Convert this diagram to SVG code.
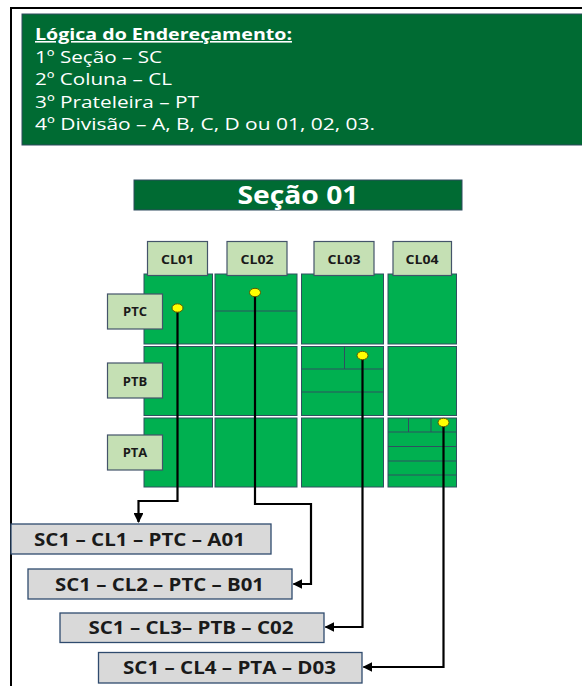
<svg xmlns="http://www.w3.org/2000/svg" width="582" height="686" viewBox="0 0 582 686">
<style>
.frame{fill:none;stroke:#000;stroke-width:2}
.hdr{fill:#006B33;stroke:#2F4B5F;stroke-width:1}
.ht{font-family:'Open Sans','Liberation Sans',Arial,sans-serif;font-size:16px;fill:#fff}
.cell{fill:#00B050;stroke:#2F5060;stroke-width:1}
.div{stroke:#2F5060;stroke-width:1;fill:none}
.tab{fill:#C5E0B4;stroke:#44546A;stroke-width:1.2}
.tt{font-family:'Open Sans','Liberation Sans',Arial,sans-serif;font-weight:bold;font-size:13px;fill:#1a1a1a;text-anchor:middle}
.lbl{fill:#D9D9D9;stroke:#2F4B6E;stroke-width:1.3}
.lt{font-family:'Open Sans','Liberation Sans',Arial,sans-serif;font-weight:bold;font-size:17px;fill:#1a1a1a}
.con{fill:none;stroke:#000;stroke-width:2.2}
.dot{fill:#FFFF00;stroke:#5A5A00;stroke-width:1}
</style>
<defs>
<marker id="ah" viewBox="0 0 10 10" refX="9" refY="5" markerWidth="4.5" markerHeight="4.5" orient="auto" markerUnits="strokeWidth">
<path d="M0,0 L10,5 L0,10 z" fill="#000"/>
</marker>
</defs>
<rect width="582" height="686" fill="#fff"/>
<rect class="frame" x="11" y="8" width="620" height="720"/>
<g id="legend">
<rect class="hdr" x="22" y="14" width="580" height="131"/>
<text class="ht" x="35" y="40" font-weight="bold" text-decoration="underline" textLength="257" lengthAdjust="spacingAndGlyphs">Lógica do Endereçamento:</text>
<text class="ht" x="35" y="63" textLength="127" lengthAdjust="spacingAndGlyphs">1º Seção – SC</text>
<text class="ht" x="35" y="85" textLength="137" lengthAdjust="spacingAndGlyphs">2º Coluna – CL</text>
<text class="ht" x="35" y="108" textLength="164" lengthAdjust="spacingAndGlyphs">3º Prateleira – PT</text>
<text class="ht" x="35" y="130" textLength="340" lengthAdjust="spacingAndGlyphs">4º Divisão – A, B, C, D ou 01, 02, 03.</text>
</g>
<g id="secao">
<rect class="hdr" x="134" y="180" width="328" height="30"/>
<text x="298" y="204" font-family="'Open Sans','Liberation Sans',Arial,sans-serif" font-weight="bold" font-size="25" fill="#fff" text-anchor="middle" textLength="121" lengthAdjust="spacingAndGlyphs">Seção 01</text>
</g>
<g id="grid">
<rect class="cell" x="144" y="274" width="68.5" height="70"/>
<rect class="cell" x="215" y="274" width="82" height="70"/>
<rect class="cell" x="301.5" y="274" width="82" height="70"/>
<rect class="cell" x="388" y="274" width="68.5" height="70"/>
<rect class="cell" x="144" y="346.5" width="68.5" height="69"/>
<rect class="cell" x="215" y="346.5" width="82" height="69"/>
<rect class="cell" x="301.5" y="346.5" width="82" height="69"/>
<rect class="cell" x="388" y="346.5" width="68.5" height="69"/>
<rect class="cell" x="144" y="418" width="68.5" height="69"/>
<rect class="cell" x="215" y="418" width="82" height="69"/>
<rect class="cell" x="301.5" y="418" width="82" height="69"/>
<rect class="cell" x="388" y="418" width="68.5" height="69"/>
<path class="div" d="M215,311 H297"/>
<path class="div" d="M344.5,346.5 V369 M301.5,369 H383.5 M301.5,392 H383.5"/>
<path class="div" d="M408.5,418 V432 M431,418 V432 M388,432 H456.5 M388,446.5 H456.5 M388,461 H456.5 M388,475 H456.5"/>
</g>
<g id="cl01"><rect class="tab" x="147.5" y="241.5" width="60" height="34"/><text class="tt" x="177.5" y="264" textLength="33" lengthAdjust="spacingAndGlyphs">CL01</text></g>
<g id="cl02"><rect class="tab" x="227" y="241.5" width="60" height="34"/><text class="tt" x="257" y="264" textLength="33" lengthAdjust="spacingAndGlyphs">CL02</text></g>
<g id="cl03"><rect class="tab" x="314" y="241.5" width="60" height="34"/><text class="tt" x="344" y="264" textLength="33" lengthAdjust="spacingAndGlyphs">CL03</text></g>
<g id="cl04"><rect class="tab" x="393" y="241.5" width="58.5" height="34"/><text class="tt" x="422" y="264" textLength="33" lengthAdjust="spacingAndGlyphs">CL04</text></g>
<g id="ptc"><rect class="tab" x="107.5" y="294" width="55" height="35"/><text class="tt" x="135" y="316">PTC</text></g>
<g id="ptb"><rect class="tab" x="107.5" y="363" width="55" height="35"/><text class="tt" x="135" y="385.5">PTB</text></g>
<g id="pta"><rect class="tab" x="107.5" y="435" width="55" height="35"/><text class="tt" x="135" y="457">PTA</text></g>
<g id="addr1"><rect class="lbl" x="11" y="524" width="260" height="30"/><text class="lt" x="34" y="545.5" textLength="211" lengthAdjust="spacingAndGlyphs">SC1 – CL1 – PTC – A01</text></g>
<g id="addr2"><rect class="lbl" x="28" y="569" width="264" height="30"/><text class="lt" x="55" y="591" textLength="209" lengthAdjust="spacingAndGlyphs">SC1 – CL2 – PTC – B01</text></g>
<g id="addr3"><rect class="lbl" x="60" y="613" width="264" height="29.5"/><text class="lt" x="88.5" y="634" textLength="205" lengthAdjust="spacingAndGlyphs">SC1 – CL3– PTB – C02</text></g>
<g id="addr4"><rect class="lbl" x="98.5" y="652.5" width="263.5" height="30.5"/><text class="lt" x="123" y="674" textLength="213" lengthAdjust="spacingAndGlyphs">SC1 – CL4 – PTA – D03</text></g>
<g id="connectors">
<path class="con" d="M177.5,308 V501 H138.5 V522" marker-end="url(#ah)"/>
<path class="con" d="M255,293 V504 H311 V584 H293.5" marker-end="url(#ah)"/>
<path class="con" d="M362.5,355 V627 H325.5" marker-end="url(#ah)"/>
<path class="con" d="M443.5,423 V667 H363.5" marker-end="url(#ah)"/>
</g>
<g id="dots">
<ellipse class="dot" cx="177.5" cy="308" rx="5.5" ry="4.2"/>
<ellipse class="dot" cx="255" cy="292.5" rx="5.5" ry="4.2"/>
<ellipse class="dot" cx="362.5" cy="355.5" rx="5.5" ry="4.2"/>
<ellipse class="dot" cx="443.5" cy="422.5" rx="5.5" ry="4.2"/>
</g>
</svg>
